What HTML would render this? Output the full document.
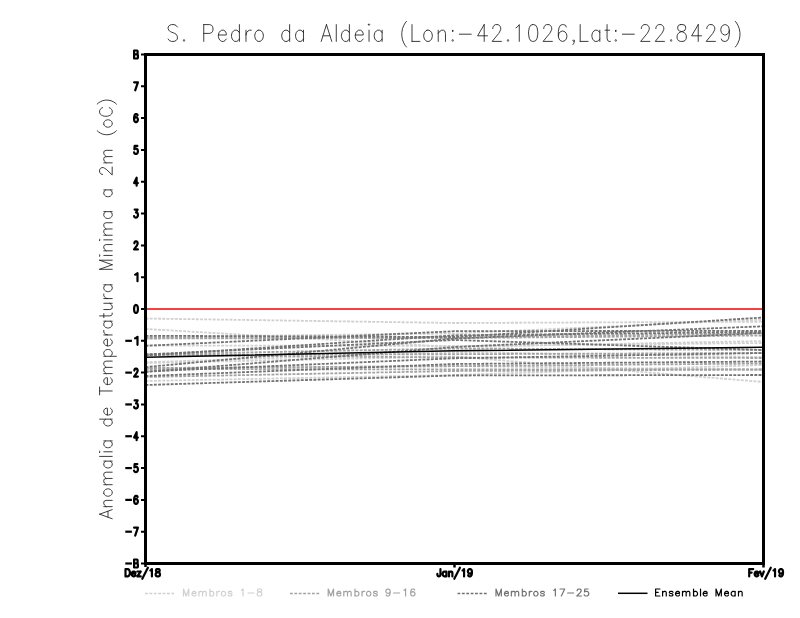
<!DOCTYPE html><html><head><meta charset="utf-8"><style>html,body{margin:0;padding:0;background:#fff;width:800px;height:618px;overflow:hidden}</style></head><body><svg width="800" height="618" viewBox="0 0 800 618" style="display:block"><rect width="800" height="618" fill="#fff"/><g fill="none" stroke-linecap="round" stroke-linejoin="round"><path d="M177.36 27.00L176.04 25.40L174.07 24.60L171.43 24.60L169.45 25.40L168.14 27.00L168.14 28.60L168.80 30.20L169.45 31.00L170.77 31.80L174.73 33.40L176.04 34.20L176.70 35.00L177.36 36.60L177.36 39.00L176.04 40.60L174.07 41.40L171.43 41.40L169.45 40.60L168.14 39.00M184.01 39.80L183.36 40.60L184.01 41.40L184.67 40.60L184.01 39.80M203.76 24.60L203.76 41.40M203.76 24.60L209.69 24.60L211.66 25.40L212.32 26.20L212.98 27.80L212.98 30.20L212.32 31.80L211.66 32.60L209.69 33.40L203.76 33.40M218.38 35.00L226.29 35.00L226.29 33.40L225.63 31.80L224.97 31.00L223.66 30.20L221.68 30.20L220.36 31.00L219.04 32.60L218.38 35.00L218.38 36.60L219.04 39.00L220.36 40.60L221.68 41.40L223.66 41.40L224.97 40.60L226.29 39.00M239.40 24.60L239.40 41.40M239.40 32.60L238.08 31.00L236.76 30.20L234.78 30.20L233.47 31.00L232.15 32.60L231.49 35.00L231.49 36.60L232.15 39.00L233.47 40.60L234.78 41.40L236.76 41.40L238.08 40.60L239.40 39.00M245.98 30.20L245.98 41.40M245.98 35.00L246.64 32.60L247.96 31.00L249.28 30.20L251.25 30.20M258.08 30.20L256.76 31.00L255.44 32.60L254.78 35.00L254.78 36.60L255.44 39.00L256.76 40.60L258.08 41.40L260.06 41.40L261.38 40.60L262.69 39.00L263.35 36.60L263.35 35.00L262.69 32.60L261.38 31.00L260.06 30.20L258.08 30.20M289.64 24.60L289.64 41.40M289.64 32.60L288.33 31.00L287.01 30.20L285.03 30.20L283.71 31.00L282.40 32.60L281.74 35.00L281.74 36.60L282.40 39.00L283.71 40.60L285.03 41.40L287.01 41.40L288.33 40.60L289.64 39.00M303.48 30.20L303.48 41.40M303.48 32.60L302.16 31.00L300.84 30.20L298.86 30.20L297.55 31.00L296.23 32.60L295.57 35.00L295.57 36.60L296.23 39.00L297.55 40.60L298.86 41.40L300.84 41.40L302.16 40.60L303.48 39.00M326.47 24.60L321.20 41.40M326.47 24.60L331.75 41.40M323.18 35.80L329.77 35.80M336.28 24.60L336.28 41.40M349.36 24.60L349.36 41.40M349.36 32.60L348.04 31.00L346.72 30.20L344.74 30.20L343.43 31.00L342.11 32.60L341.45 35.00L341.45 36.60L342.11 39.00L343.43 40.60L344.74 41.40L346.72 41.40L348.04 40.60L349.36 39.00M355.28 35.00L363.19 35.00L363.19 33.40L362.53 31.80L361.87 31.00L360.55 30.20L358.58 30.20L357.26 31.00L355.94 32.60L355.28 35.00L355.28 36.60L355.94 39.00L357.26 40.60L358.58 41.40L360.55 41.40L361.87 40.60L363.19 39.00M368.38 24.60L369.04 25.40L369.70 24.60L369.04 23.80L368.38 24.60M369.04 30.20L369.04 41.40M382.12 30.20L382.12 41.40M382.12 32.60L380.80 31.00L379.48 30.20L377.50 30.20L376.19 31.00L374.87 32.60L374.21 35.00L374.21 36.60L374.87 39.00L376.19 40.60L377.50 41.40L379.48 41.40L380.80 40.60L382.12 39.00M406.43 21.40L405.11 23.00L403.80 25.40L402.48 28.60L401.82 32.60L401.82 35.80L402.48 39.80L403.80 43.00L405.11 45.40L406.43 47.00M412.01 24.60L412.01 41.40M412.01 41.40L419.92 41.40M427.02 30.20L425.71 31.00L424.39 32.60L423.73 35.00L423.73 36.60L424.39 39.00L425.71 40.60L427.02 41.40L429.00 41.40L430.32 40.60L431.64 39.00L432.30 36.60L432.30 35.00L431.64 32.60L430.32 31.00L429.00 30.20L427.02 30.20M438.22 30.20L438.22 41.40M438.22 33.40L440.20 31.00L441.52 30.20L443.49 30.20L444.81 31.00L445.47 33.40L445.47 41.40M452.71 30.20L452.05 31.00L452.71 31.80L453.37 31.00L452.71 30.20M452.71 39.80L452.05 40.60L452.71 41.40L453.37 40.60L452.71 39.80M459.33 34.20L471.19 34.20M484.19 24.60L477.60 35.80L487.49 35.80M484.19 24.60L484.19 41.40M492.82 28.60L492.82 27.80L493.48 26.20L494.14 25.40L495.46 24.60L498.09 24.60L499.41 25.40L500.07 26.20L500.73 27.80L500.73 29.40L500.07 31.00L498.75 33.40L492.16 41.40L501.39 41.40M508.04 39.80L507.38 40.60L508.04 41.40L508.70 40.60L508.04 39.80M515.98 27.80L517.30 27.00L519.27 24.60L519.27 41.40M532.51 24.60L530.54 25.40L529.22 27.80L528.56 31.80L528.56 34.20L529.22 38.20L530.54 40.60L532.51 41.40L533.83 41.40L535.81 40.60L537.13 38.20L537.79 34.20L537.79 31.80L537.13 27.80L535.81 25.40L533.83 24.60L532.51 24.60M543.78 28.60L543.78 27.80L544.44 26.20L545.10 25.40L546.42 24.60L549.05 24.60L550.37 25.40L551.03 26.20L551.69 27.80L551.69 29.40L551.03 31.00L549.71 33.40L543.12 41.40L552.35 41.40M566.25 27.00L565.59 25.40L563.61 24.60L562.29 24.60L560.32 25.40L559.00 27.80L558.34 31.80L558.34 35.80L559.00 39.00L560.32 40.60L562.29 41.40L562.95 41.40L564.93 40.60L566.25 39.00L566.91 36.60L566.91 35.80L566.25 33.40L564.93 31.80L562.95 31.00L562.29 31.00L560.32 31.80L559.00 33.40L558.34 35.80M574.22 40.60L573.56 41.40L572.90 40.60L573.56 39.80L574.22 40.60L574.22 42.20L573.56 43.80L572.90 44.60M580.18 24.60L580.18 41.40M580.18 41.40L588.09 41.40M599.80 30.20L599.80 41.40M599.80 32.60L598.49 31.00L597.17 30.20L595.19 30.20L593.87 31.00L592.56 32.60L591.90 35.00L591.90 36.60L592.56 39.00L593.87 40.60L595.19 41.40L597.17 41.40L598.49 40.60L599.80 39.00M607.05 24.60L607.05 38.20L607.71 40.60L609.02 41.40L610.34 41.40M605.07 30.20L609.68 30.20M615.78 30.20L615.12 31.00L615.78 31.80L616.44 31.00L615.78 30.20M615.78 39.80L615.12 40.60L615.78 41.40L616.44 40.60L615.78 39.80M622.40 34.20L634.27 34.20M641.33 28.60L641.33 27.80L641.99 26.20L642.65 25.40L643.97 24.60L646.60 24.60L647.92 25.40L648.58 26.20L649.24 27.80L649.24 29.40L648.58 31.00L647.26 33.40L640.67 41.40L649.90 41.40M655.89 28.60L655.89 27.80L656.55 26.20L657.21 25.40L658.53 24.60L661.16 24.60L662.48 25.40L663.14 26.20L663.80 27.80L663.80 29.40L663.14 31.00L661.82 33.40L655.23 41.40L664.46 41.40M671.11 39.80L670.45 40.60L671.11 41.40L671.77 40.60L671.11 39.80M680.37 24.60L678.39 25.40L677.73 27.00L677.73 28.60L678.39 30.20L679.71 31.00L682.34 31.80L684.32 32.60L685.64 34.20L686.30 35.80L686.30 38.20L685.64 39.80L684.98 40.60L683.00 41.40L680.37 41.40L678.39 40.60L677.73 39.80L677.07 38.20L677.07 35.80L677.73 34.20L679.05 32.60L681.03 31.80L683.66 31.00L684.98 30.20L685.64 28.60L685.64 27.00L684.98 25.40L683.00 24.60L680.37 24.60M698.22 24.60L691.63 35.80L701.52 35.80M698.22 24.60L698.22 41.40M706.85 28.60L706.85 27.80L707.51 26.20L708.17 25.40L709.49 24.60L712.12 24.60L713.44 25.40L714.10 26.20L714.76 27.80L714.76 29.40L714.10 31.00L712.78 33.40L706.19 41.40L715.42 41.40M729.32 30.20L728.66 32.60L727.34 34.20L725.37 35.00L724.71 35.00L722.73 34.20L721.41 32.60L720.75 30.20L720.75 29.40L721.41 27.00L722.73 25.40L724.71 24.60L725.37 24.60L727.34 25.40L728.66 27.00L729.32 30.20L729.32 34.20L728.66 38.20L727.34 40.60L725.37 41.40L724.05 41.40L722.07 40.60L721.41 39.00M735.31 21.40L736.63 23.00L737.95 25.40L739.27 28.60L739.93 32.60L739.93 35.80L739.27 39.80L737.95 43.00L736.63 45.40L735.31 47.00" stroke="#1a1a1a" stroke-width="0.85"/><path d="M99.60 514.19L112.20 518.73M99.60 514.19L112.20 509.64M108.00 517.03L108.00 511.35M103.80 506.64L112.20 506.64M106.20 506.64L104.40 504.93L103.80 503.80L103.80 502.09L104.40 500.96L106.20 500.39L112.20 500.39M103.80 493.40L104.40 494.53L105.60 495.67L107.40 496.24L108.60 496.24L110.40 495.67L111.60 494.53L112.20 493.40L112.20 491.69L111.60 490.56L110.40 489.42L108.60 488.85L107.40 488.85L105.60 489.42L104.40 490.56L103.80 491.69L103.80 493.40M103.80 484.70L112.20 484.70M106.20 484.70L104.40 483.00L103.80 481.86L103.80 480.16L104.40 479.02L106.20 478.45L112.20 478.45M106.20 478.45L104.40 476.75L103.80 475.61L103.80 473.91L104.40 472.77L106.20 472.20L112.20 472.20M103.80 461.13L112.20 461.13M105.60 461.13L104.40 462.27L103.80 463.40L103.80 465.11L104.40 466.24L105.60 467.38L107.40 467.95L108.60 467.95L110.40 467.38L111.60 466.24L112.20 465.11L112.20 463.40L111.60 462.27L110.40 461.13M99.60 456.41L112.20 456.41M99.60 452.36L100.20 451.79L99.60 451.23L99.00 451.79L99.60 452.36M103.80 451.79L112.20 451.79M103.80 440.93L112.20 440.93M105.60 440.93L104.40 442.06L103.80 443.20L103.80 444.90L104.40 446.04L105.60 447.17L107.40 447.74L108.60 447.74L110.40 447.17L111.60 446.04L112.20 444.90L112.20 443.20L111.60 442.06L110.40 440.93M99.60 419.16L112.20 419.16M105.60 419.16L104.40 420.29L103.80 421.43L103.80 423.13L104.40 424.27L105.60 425.41L107.40 425.97L108.60 425.97L110.40 425.41L111.60 424.27L112.20 423.13L112.20 421.43L111.60 420.29L110.40 419.16M107.40 415.01L107.40 408.19L106.20 408.19L105.00 408.76L104.40 409.33L103.80 410.46L103.80 412.17L104.40 413.30L105.60 414.44L107.40 415.01L108.60 415.01L110.40 414.44L111.60 413.30L112.20 412.17L112.20 410.46L111.60 409.33L110.40 408.19M99.60 390.97L112.20 390.97M99.60 394.95L99.60 387.00M107.40 384.58L107.40 377.76L106.20 377.76L105.00 378.33L104.40 378.90L103.80 380.03L103.80 381.74L104.40 382.87L105.60 384.01L107.40 384.58L108.60 384.58L110.40 384.01L111.60 382.87L112.20 381.74L112.20 380.03L111.60 378.90L110.40 377.76M103.80 373.62L112.20 373.62M106.20 373.62L104.40 371.91L103.80 370.78L103.80 369.07L104.40 367.94L106.20 367.37L112.20 367.37M106.20 367.37L104.40 365.67L103.80 364.53L103.80 362.83L104.40 361.69L106.20 361.12L112.20 361.12M103.80 356.30L116.40 356.30M105.60 356.30L104.40 355.16L103.80 354.03L103.80 352.32L104.40 351.19L105.60 350.05L107.40 349.48L108.60 349.48L110.40 350.05L111.60 351.19L112.20 352.32L112.20 354.03L111.60 355.16L110.40 356.30M107.40 345.90L107.40 339.08L106.20 339.08L105.00 339.65L104.40 340.22L103.80 341.35L103.80 343.06L104.40 344.19L105.60 345.33L107.40 345.90L108.60 345.90L110.40 345.33L111.60 344.19L112.20 343.06L112.20 341.35L111.60 340.22L110.40 339.08M103.80 334.94L112.20 334.94M107.40 334.94L105.60 334.37L104.40 333.23L103.80 332.10L103.80 330.39M103.80 321.19L112.20 321.19M105.60 321.19L104.40 322.32L103.80 323.46L103.80 325.16L104.40 326.30L105.60 327.43L107.40 328.00L108.60 328.00L110.40 327.43L111.60 326.30L112.20 325.16L112.20 323.46L111.60 322.32L110.40 321.19M99.60 315.90L109.80 315.90L111.60 315.33L112.20 314.19L112.20 313.06M103.80 317.60L103.80 313.62M103.80 309.54L109.80 309.54L111.60 308.97L112.20 307.83L112.20 306.13L111.60 304.99L109.80 303.29M103.80 303.29L112.20 303.29M103.80 298.57L112.20 298.57M107.40 298.57L105.60 298.00L104.40 296.86L103.80 295.73L103.80 294.02M103.80 284.82L112.20 284.82M105.60 284.82L104.40 285.95L103.80 287.09L103.80 288.79L104.40 289.93L105.60 291.06L107.40 291.63L108.60 291.63L110.40 291.06L111.60 289.93L112.20 288.79L112.20 287.09L111.60 285.95L110.40 284.82M99.60 269.30L112.20 269.30M99.60 269.30L112.20 264.75M99.60 260.21L112.20 264.75M99.60 260.21L112.20 260.21M99.60 256.01L100.20 255.44L99.60 254.87L99.00 255.44L99.60 256.01M103.80 255.44L112.20 255.44M103.80 250.82L112.20 250.82M106.20 250.82L104.40 249.12L103.80 247.98L103.80 246.28L104.40 245.14L106.20 244.57L112.20 244.57M99.60 240.42L100.20 239.85L99.60 239.28L99.00 239.85L99.60 240.42M103.80 239.85L112.20 239.85M103.80 235.23L112.20 235.23M106.20 235.23L104.40 233.53L103.80 232.39L103.80 230.69L104.40 229.55L106.20 228.99L112.20 228.99M106.20 228.99L104.40 227.28L103.80 226.15L103.80 224.44L104.40 223.31L106.20 222.74L112.20 222.74M103.80 211.67L112.20 211.67M105.60 211.67L104.40 212.80L103.80 213.94L103.80 215.64L104.40 216.78L105.60 217.92L107.40 218.48L108.60 218.48L110.40 217.92L111.60 216.78L112.20 215.64L112.20 213.94L111.60 212.80L110.40 211.67M103.80 189.90L112.20 189.90M105.60 189.90L104.40 191.03L103.80 192.17L103.80 193.87L104.40 195.01L105.60 196.15L107.40 196.71L108.60 196.71L110.40 196.15L111.60 195.01L112.20 193.87L112.20 192.17L111.60 191.03L110.40 189.90M102.60 174.38L102.00 174.38L100.80 173.81L100.20 173.24L99.60 172.11L99.60 169.83L100.20 168.70L100.80 168.13L102.00 167.56L103.20 167.56L104.40 168.13L106.20 169.27L112.20 174.95L112.20 166.99M103.80 162.83L112.20 162.83M106.20 162.83L104.40 161.13L103.80 159.99L103.80 158.29L104.40 157.15L106.20 156.58L112.20 156.58M106.20 156.58L104.40 154.88L103.80 153.74L103.80 152.04L104.40 150.90L106.20 150.34L112.20 150.34M97.20 130.74L98.40 131.87L100.20 133.01L102.60 134.14L105.60 134.71L108.00 134.71L111.00 134.14L113.40 133.01L115.20 131.87L116.40 130.74M103.80 124.36L104.40 125.49L105.60 126.63L107.40 127.20L108.60 127.20L110.40 126.63L111.60 125.49L112.20 124.36L112.20 122.65L111.60 121.52L110.40 120.38L108.60 119.81L107.40 119.81L105.60 120.38L104.40 121.52L103.80 122.65L103.80 124.36M102.60 107.71L101.40 108.28L100.20 109.41L99.60 110.55L99.60 112.82L100.20 113.96L101.40 115.09L102.60 115.66L104.40 116.23L107.40 116.23L109.20 115.66L110.40 115.09L111.60 113.96L112.20 112.82L112.20 110.55L111.60 109.41L110.40 108.28L109.20 107.71M97.20 104.11L98.40 102.97L100.20 101.83L102.60 100.70L105.60 100.13L108.00 100.13L111.00 100.70L113.40 101.83L115.20 102.97L116.40 104.11" stroke="#1a1a1a" stroke-width="0.85"/><g clip-path="url(#clip)"><path d="M145.5 318.5L454.5 323.0L763.5 321.7" stroke="#d0d0d0" stroke-width="1.8" stroke-dasharray="2.9 1.3" stroke-linecap="butt"/><path d="M145.5 329.0L454.5 347.0L763.5 341.0" stroke="#d0d0d0" stroke-width="1.8" stroke-dasharray="2.9 1.3" stroke-linecap="butt"/><path d="M145.5 337.0L454.5 333.5L763.5 319.5" stroke="#d0d0d0" stroke-width="1.8" stroke-dasharray="2.9 1.3" stroke-linecap="butt"/><path d="M145.5 362.25L454.5 352.0L763.5 357.0" stroke="#d0d0d0" stroke-width="1.8" stroke-dasharray="2.9 1.3" stroke-linecap="butt"/><path d="M145.5 363.0L454.5 356.5L763.5 382.0" stroke="#d0d0d0" stroke-width="1.8" stroke-dasharray="2.9 1.3" stroke-linecap="butt"/><path d="M145.5 368.5L454.5 366.0L763.5 370.0" stroke="#d0d0d0" stroke-width="1.8" stroke-dasharray="2.9 1.3" stroke-linecap="butt"/><path d="M145.5 381.0L454.5 375.0L763.5 365.0" stroke="#d0d0d0" stroke-width="1.8" stroke-dasharray="2.9 1.3" stroke-linecap="butt"/><path d="M145.5 345.5L454.5 346.0L763.5 343.0" stroke="#d0d0d0" stroke-width="1.8" stroke-dasharray="2.9 1.3" stroke-linecap="butt"/><path d="M145.5 338.5L454.5 338.0L763.5 335.5" stroke="#a2a2a2" stroke-width="1.8" stroke-dasharray="2.9 1.3" stroke-linecap="butt"/><path d="M145.5 338.0L454.5 337.5L763.5 333.3" stroke="#a2a2a2" stroke-width="1.8" stroke-dasharray="2.9 1.3" stroke-linecap="butt"/><path d="M145.5 368.0L454.5 366.2L763.5 363.5" stroke="#a2a2a2" stroke-width="1.8" stroke-dasharray="2.9 1.3" stroke-linecap="butt"/><path d="M145.5 369.0L454.5 369.5L763.5 369.3" stroke="#a2a2a2" stroke-width="1.8" stroke-dasharray="2.9 1.3" stroke-linecap="butt"/><path d="M145.5 355.0L454.5 357.5L763.5 358.0" stroke="#a2a2a2" stroke-width="1.8" stroke-dasharray="2.9 1.3" stroke-linecap="butt"/><path d="M145.5 377.0L454.5 371.0L763.5 369.5" stroke="#a2a2a2" stroke-width="1.8" stroke-dasharray="2.9 1.3" stroke-linecap="butt"/><path d="M145.5 354.4L454.5 348.5L763.5 350.0" stroke="#a2a2a2" stroke-width="1.8" stroke-dasharray="2.9 1.3" stroke-linecap="butt"/><path d="M145.5 354.8L454.5 354.2L763.5 353.0" stroke="#a2a2a2" stroke-width="1.8" stroke-dasharray="2.9 1.3" stroke-linecap="butt"/><path d="M145.5 345.8L454.5 331.2L763.5 330.8" stroke="#727272" stroke-width="1.8" stroke-dasharray="2.9 1.3" stroke-linecap="butt"/><path d="M145.5 355.5L454.5 335.3L763.5 332.0" stroke="#727272" stroke-width="1.8" stroke-dasharray="2.9 1.3" stroke-linecap="butt"/><path d="M145.5 354.4L454.5 340.0L763.5 350.0" stroke="#727272" stroke-width="1.8" stroke-dasharray="2.9 1.3" stroke-linecap="butt"/><path d="M145.5 367.1L454.5 338.5L763.5 326.3" stroke="#727272" stroke-width="1.8" stroke-dasharray="2.9 1.3" stroke-linecap="butt"/><path d="M145.5 335.8L454.5 337.0L763.5 317.5" stroke="#727272" stroke-width="1.8" stroke-dasharray="2.9 1.3" stroke-linecap="butt"/><path d="M145.5 371.5L454.5 358.3L763.5 353.0" stroke="#727272" stroke-width="1.8" stroke-dasharray="2.9 1.3" stroke-linecap="butt"/><path d="M145.5 376.0L454.5 364.0L763.5 361.5" stroke="#727272" stroke-width="1.8" stroke-dasharray="2.9 1.3" stroke-linecap="butt"/><path d="M145.5 385.0L454.5 375.5L763.5 375.0" stroke="#727272" stroke-width="1.8" stroke-dasharray="2.9 1.3" stroke-linecap="butt"/><path d="M145.5 372.0L454.5 347.0L763.5 333.0" stroke="#727272" stroke-width="1.8" stroke-dasharray="2.9 1.3" stroke-linecap="butt"/></g><path d="M145.5 357.3L454.5 350.8L763.5 347.3" stroke="#000" stroke-width="1.5" stroke-linecap="butt"/><path d="M146 309L762 309" stroke="#f84040" stroke-width="2" stroke-linecap="butt"/><rect x="145.5" y="54.5" width="618" height="509" stroke="#000" stroke-width="3" stroke-linejoin="miter"/><path d="M141 563.50L145 563.50M141 531.69L145 531.69M141 499.88L145 499.88M141 468.06L145 468.06M141 436.25L145 436.25M141 404.44L145 404.44M141 372.62L145 372.62M141 340.81L145 340.81M141 309.00L145 309.00M141 277.19L145 277.19M141 245.38L145 245.38M141 213.56L145 213.56M141 181.75L145 181.75M141 149.94L145 149.94M141 118.12L145 118.12M141 86.31L145 86.31M141 54.50L145 54.50" stroke="#000" stroke-width="2" stroke-linecap="butt"/><path d="M145.5 563L145.5 567M454.5 563L454.5 567.5M763.5 563L763.5 567.5" stroke="#000" stroke-width="2.5" stroke-linecap="butt"/><path d="M134.10 559.50L137.02 559.50L137.61 560.26L137.61 562.55L137.02 563.31L134.10 563.31M134.10 563.31L137.32 563.31L137.90 564.07L137.90 566.74L137.32 567.50L134.10 567.50M134.10 559.50L134.10 567.50" stroke="#000" stroke-width="2.2"/><path d="M126.4 563.50L130.8 563.50" stroke="#000" stroke-width="2.2" stroke-linecap="square"/><path d="M137.90 527.69L135.19 535.69M134.10 527.69L137.90 527.69" stroke="#000" stroke-width="2.2"/><path d="M126.4 531.69L130.8 531.69" stroke="#000" stroke-width="2.2" stroke-linecap="square"/><path d="M137.61 497.02L137.32 496.26L136.44 495.87L135.85 495.87L134.98 496.26L134.39 497.40L134.10 499.30L134.10 501.21L134.39 502.73L134.98 503.49L135.85 503.88L136.15 503.88L137.02 503.49L137.61 502.73L137.90 501.59L137.90 501.21L137.61 500.07L137.02 499.30L136.15 498.92L135.85 498.92L134.98 499.30L134.39 500.07L134.10 501.21" stroke="#000" stroke-width="2.2"/><path d="M126.4 499.88L130.8 499.88" stroke="#000" stroke-width="2.2" stroke-linecap="square"/><path d="M137.36 464.06L134.64 464.06L134.37 467.49L134.64 467.11L135.46 466.73L136.27 466.73L137.09 467.11L137.63 467.87L137.90 469.01L137.90 469.78L137.63 470.92L137.09 471.68L136.27 472.06L135.46 472.06L134.64 471.68L134.37 471.30L134.10 470.54" stroke="#000" stroke-width="2.2"/><path d="M126.4 468.06L130.8 468.06" stroke="#000" stroke-width="2.2" stroke-linecap="square"/><path d="M136.63 432.25L134.10 437.58L137.90 437.58M136.63 432.25L136.63 440.25" stroke="#000" stroke-width="2.2"/><path d="M126.4 436.25L130.8 436.25" stroke="#000" stroke-width="2.2" stroke-linecap="square"/><path d="M134.64 400.44L137.63 400.44L136.00 403.49L136.81 403.49L137.36 403.87L137.63 404.25L137.90 405.39L137.90 406.15L137.63 407.29L137.09 408.06L136.27 408.44L135.46 408.44L134.64 408.06L134.37 407.68L134.10 406.91" stroke="#000" stroke-width="2.2"/><path d="M126.4 404.44L130.8 404.44" stroke="#000" stroke-width="2.2" stroke-linecap="square"/><path d="M134.37 370.53L134.37 370.15L134.64 369.39L134.91 369.01L135.46 368.62L136.54 368.62L137.09 369.01L137.36 369.39L137.63 370.15L137.63 370.91L137.36 371.67L136.81 372.82L134.10 376.62L137.90 376.62" stroke="#000" stroke-width="2.2"/><path d="M126.4 372.62L130.8 372.62" stroke="#000" stroke-width="2.2" stroke-linecap="square"/><path d="M135.10 338.34L136.06 337.96L137.50 336.81L137.50 344.81" stroke="#000" stroke-width="2.2"/><path d="M126.4 340.81L130.8 340.81" stroke="#000" stroke-width="2.2" stroke-linecap="square"/><path d="M135.73 305.00L134.91 305.38L134.37 306.52L134.10 308.43L134.10 309.57L134.37 311.48L134.91 312.62L135.73 313.00L136.27 313.00L137.09 312.62L137.63 311.48L137.90 309.57L137.90 308.43L137.63 306.52L137.09 305.38L136.27 305.00L135.73 305.00" stroke="#000" stroke-width="2.2"/><path d="M135.10 274.71L136.06 274.33L137.50 273.19L137.50 281.19" stroke="#000" stroke-width="2.2"/><path d="M134.37 243.28L134.37 242.90L134.64 242.14L134.91 241.76L135.46 241.38L136.54 241.38L137.09 241.76L137.36 242.14L137.63 242.90L137.63 243.66L137.36 244.42L136.81 245.57L134.10 249.38L137.90 249.38" stroke="#000" stroke-width="2.2"/><path d="M134.64 209.56L137.63 209.56L136.00 212.61L136.81 212.61L137.36 212.99L137.63 213.37L137.90 214.51L137.90 215.28L137.63 216.42L137.09 217.18L136.27 217.56L135.46 217.56L134.64 217.18L134.37 216.80L134.10 216.04" stroke="#000" stroke-width="2.2"/><path d="M136.63 177.75L134.10 183.08L137.90 183.08M136.63 177.75L136.63 185.75" stroke="#000" stroke-width="2.2"/><path d="M137.36 145.94L134.64 145.94L134.37 149.37L134.64 148.99L135.46 148.60L136.27 148.60L137.09 148.99L137.63 149.75L137.90 150.89L137.90 151.65L137.63 152.79L137.09 153.56L136.27 153.94L135.46 153.94L134.64 153.56L134.37 153.18L134.10 152.41" stroke="#000" stroke-width="2.2"/><path d="M137.61 115.27L137.32 114.51L136.44 114.13L135.85 114.13L134.98 114.51L134.39 115.65L134.10 117.55L134.10 119.46L134.39 120.98L134.98 121.74L135.85 122.12L136.15 122.12L137.02 121.74L137.61 120.98L137.90 119.84L137.90 119.46L137.61 118.32L137.02 117.55L136.15 117.17L135.85 117.17L134.98 117.55L134.39 118.32L134.10 119.46" stroke="#000" stroke-width="2.2"/><path d="M137.90 82.31L135.19 90.31M134.10 82.31L137.90 82.31" stroke="#000" stroke-width="2.2"/><path d="M134.10 50.50L137.02 50.50L137.61 51.26L137.61 53.55L137.02 54.31L134.10 54.31M134.10 54.31L137.32 54.31L137.90 55.07L137.90 57.74L137.32 58.50L134.10 58.50M134.10 50.50L134.10 58.50" stroke="#000" stroke-width="2.2"/><path d="M125.50 569.05L125.50 576.40M125.50 569.05L127.67 569.05L128.60 569.40L129.22 570.10L129.53 570.80L129.84 571.85L129.84 573.60L129.53 574.65L129.22 575.35L128.60 576.05L127.67 576.40L125.50 576.40M131.72 573.60L135.44 573.60L135.44 572.90L135.13 572.20L134.82 571.85L134.20 571.50L133.27 571.50L132.65 571.85L132.03 572.55L131.72 573.60L131.72 574.30L132.03 575.35L132.65 576.05L133.27 576.40L134.20 576.40L134.82 576.05L135.44 575.35M140.73 571.50L137.32 576.40M137.32 571.50L140.73 571.50M137.32 576.40L140.73 576.40M147.87 567.65L142.29 578.85M150.37 570.45L150.99 570.10L151.92 569.05L151.92 576.40M157.21 569.05L156.28 569.40L155.97 570.10L155.97 570.80L156.28 571.50L156.90 571.85L158.14 572.20L159.07 572.55L159.69 573.25L160.00 573.95L160.00 575.00L159.69 575.70L159.38 576.05L158.45 576.40L157.21 576.40L156.28 576.05L155.97 575.70L155.66 575.00L155.66 573.95L155.97 573.25L156.59 572.55L157.52 572.20L158.76 571.85L159.38 571.50L159.69 570.80L159.69 570.10L159.38 569.40L158.45 569.05L157.21 569.05" stroke="#000" stroke-width="2.2" /><path d="M440.45 569.05L440.45 574.65L440.14 575.70L439.83 576.05L439.21 576.40L438.59 576.40L437.97 576.05L437.66 575.70L437.35 574.65L437.35 573.95M446.41 571.50L446.41 576.40M446.41 572.55L445.79 571.85L445.18 571.50L444.25 571.50L443.62 571.85L443.00 572.55L442.69 573.60L442.69 574.30L443.00 575.35L443.62 576.05L444.25 576.40L445.18 576.40L445.79 576.05L446.41 575.35M448.98 571.50L448.98 576.40M448.98 572.90L449.91 571.85L450.53 571.50L451.46 571.50L452.08 571.85L452.39 572.90L452.39 576.40M459.92 567.65L454.34 578.85M462.51 570.45L463.13 570.10L464.06 569.05L464.06 576.40M471.90 571.50L471.59 572.55L470.97 573.25L470.04 573.60L469.73 573.60L468.80 573.25L468.18 572.55L467.87 571.50L467.87 571.15L468.18 570.10L468.80 569.40L469.73 569.05L470.04 569.05L470.97 569.40L471.59 570.10L471.90 571.50L471.90 573.25L471.59 575.00L470.97 576.05L470.04 576.40L469.42 576.40L468.49 576.05L468.18 575.35" stroke="#000" stroke-width="2.2" /><path d="M749.20 569.05L749.20 576.40M749.20 569.05L753.23 569.05M749.20 572.55L751.68 572.55M754.65 573.60L758.37 573.60L758.37 572.90L758.06 572.20L757.75 571.85L757.13 571.50L756.20 571.50L755.58 571.85L754.96 572.55L754.65 573.60L754.65 574.30L754.96 575.35L755.58 576.05L756.20 576.40L757.13 576.40L757.75 576.05L758.37 575.35M760.10 571.50L761.96 576.40M763.82 571.50L761.96 576.40M770.80 567.65L765.22 578.85M773.50 570.45L774.12 570.10L775.05 569.05L775.05 576.40M783.00 571.50L782.69 572.55L782.07 573.25L781.14 573.60L780.83 573.60L779.90 573.25L779.28 572.55L778.97 571.50L778.97 571.15L779.28 570.10L779.90 569.40L780.83 569.05L781.14 569.05L782.07 569.40L782.69 570.10L783.00 571.50L783.00 573.25L782.69 575.00L782.07 576.05L781.14 576.40L780.52 576.40L779.59 576.05L779.28 575.35" stroke="#000" stroke-width="2.2" /><path d="M145 593.4L174 593.4" stroke="#d0d0d0" stroke-width="1.5" stroke-dasharray="2.8 1.6" stroke-linecap="butt"/><path d="M290 593.4L320 593.4" stroke="#a2a2a2" stroke-width="1.5" stroke-dasharray="2.8 1.6" stroke-linecap="butt"/><path d="M457.5 593.4L487 593.4" stroke="#727272" stroke-width="1.5" stroke-dasharray="2.8 1.6" stroke-linecap="butt"/><path d="M618 593.3L647.5 593.3" stroke="#000" stroke-width="1.5" stroke-linecap="butt"/><path d="M183.50 589.01L183.50 596.00M183.50 589.01L186.16 596.00M188.83 589.01L186.16 596.00M188.83 589.01L188.83 596.00M191.97 593.34L195.96 593.34L195.96 592.67L195.63 592.00L195.30 591.67L194.63 591.34L193.63 591.34L192.97 591.67L192.30 592.34L191.97 593.34L191.97 594.00L192.30 595.00L192.97 595.67L193.63 596.00L194.63 596.00L195.30 595.67L195.96 595.00M198.90 591.34L198.90 596.00M198.90 592.67L199.90 591.67L200.57 591.34L201.56 591.34L202.23 591.67L202.56 592.67L202.56 596.00M202.56 592.67L203.56 591.67L204.23 591.34L205.23 591.34L205.89 591.67L206.23 592.67L206.23 596.00M209.90 589.01L209.90 596.00M209.90 592.34L210.57 591.67L211.23 591.34L212.23 591.34L212.90 591.67L213.56 592.34L213.90 593.34L213.90 594.00L213.56 595.00L212.90 595.67L212.23 596.00L211.23 596.00L210.57 595.67L209.90 595.00M216.87 591.34L216.87 596.00M216.87 593.34L217.20 592.34L217.87 591.67L218.53 591.34L219.53 591.34M222.97 591.34L222.30 591.67L221.64 592.34L221.30 593.34L221.30 594.00L221.64 595.00L222.30 595.67L222.97 596.00L223.97 596.00L224.63 595.67L225.30 595.00L225.63 594.00L225.63 593.34L225.30 592.34L224.63 591.67L223.97 591.34L222.97 591.34M231.93 592.34L231.60 591.67L230.60 591.34L229.60 591.34L228.60 591.67L228.27 592.34L228.60 593.00L229.27 593.34L230.93 593.67L231.60 594.00L231.93 594.67L231.93 595.00L231.60 595.67L230.60 596.00L229.60 596.00L228.60 595.67L228.27 595.00M241.37 590.34L242.04 590.01L243.03 589.01L243.03 596.00M248.04 593.00L254.03 593.00M258.90 589.01L257.90 589.34L257.57 590.01L257.57 590.67L257.90 591.34L258.57 591.67L259.90 592.00L260.90 592.34L261.57 593.00L261.90 593.67L261.90 594.67L261.57 595.33L261.23 595.67L260.23 596.00L258.90 596.00L257.90 595.67L257.57 595.33L257.24 594.67L257.24 593.67L257.57 593.00L258.24 592.34L259.24 592.00L260.57 591.67L261.23 591.34L261.57 590.67L261.57 590.01L261.23 589.34L260.23 589.01L258.90 589.01" stroke="#d0d0d0" stroke-width="1.2" /><path d="M328.20 589.01L328.20 596.00M328.20 589.01L330.86 596.00M333.53 589.01L330.86 596.00M333.53 589.01L333.53 596.00M336.78 593.34L340.78 593.34L340.78 592.67L340.45 592.00L340.11 591.67L339.45 591.34L338.45 591.34L337.78 591.67L337.12 592.34L336.78 593.34L336.78 594.00L337.12 595.00L337.78 595.67L338.45 596.00L339.45 596.00L340.11 595.67L340.78 595.00M343.80 591.34L343.80 596.00M343.80 592.67L344.80 591.67L345.47 591.34L346.47 591.34L347.13 591.67L347.47 592.67L347.47 596.00M347.47 592.67L348.46 591.67L349.13 591.34L350.13 591.34L350.80 591.67L351.13 592.67L351.13 596.00M354.95 589.01L354.95 596.00M354.95 592.34L355.61 591.67L356.28 591.34L357.28 591.34L357.94 591.67L358.61 592.34L358.94 593.34L358.94 594.00L358.61 595.00L357.94 595.67L357.28 596.00L356.28 596.00L355.61 595.67L354.95 595.00M362.01 591.34L362.01 596.00M362.01 593.34L362.34 592.34L363.00 591.67L363.67 591.34L364.67 591.34M368.17 591.34L367.50 591.67L366.84 592.34L366.50 593.34L366.50 594.00L366.84 595.00L367.50 595.67L368.17 596.00L369.17 596.00L369.83 595.67L370.50 595.00L370.83 594.00L370.83 593.34L370.50 592.34L369.83 591.67L369.17 591.34L368.17 591.34M377.22 592.34L376.89 591.67L375.89 591.34L374.89 591.34L373.89 591.67L373.56 592.34L373.89 593.00L374.56 593.34L376.22 593.67L376.89 594.00L377.22 594.67L377.22 595.00L376.89 595.67L375.89 596.00L374.89 596.00L373.89 595.67L373.56 595.00M390.15 591.34L389.82 592.34L389.15 593.00L388.15 593.34L387.82 593.34L386.82 593.00L386.15 592.34L385.82 591.34L385.82 591.00L386.15 590.01L386.82 589.34L387.82 589.01L388.15 589.01L389.15 589.34L389.82 590.01L390.15 591.34L390.15 593.00L389.82 594.67L389.15 595.67L388.15 596.00L387.48 596.00L386.49 595.67L386.15 595.00M393.58 593.00L399.58 593.00M403.91 590.34L404.57 590.01L405.57 589.01L405.57 596.00M414.67 590.01L414.33 589.34L413.33 589.01L412.67 589.01L411.67 589.34L411.00 590.34L410.67 592.00L410.67 593.67L411.00 595.00L411.67 595.67L412.67 596.00L413.00 596.00L414.00 595.67L414.67 595.00L415.00 594.00L415.00 593.67L414.67 592.67L414.00 592.00L413.00 591.67L412.67 591.67L411.67 592.00L411.00 592.67L410.67 593.67" stroke="#a2a2a2" stroke-width="1.2" /><path d="M496.00 589.01L496.00 596.00M496.00 589.01L498.66 596.00M501.33 589.01L498.66 596.00M501.33 589.01L501.33 596.00M504.44 593.34L508.44 593.34L508.44 592.67L508.10 592.00L507.77 591.67L507.10 591.34L506.11 591.34L505.44 591.67L504.77 592.34L504.44 593.34L504.44 594.00L504.77 595.00L505.44 595.67L506.11 596.00L507.10 596.00L507.77 595.67L508.44 595.00M511.35 591.34L511.35 596.00M511.35 592.67L512.35 591.67L513.02 591.34L514.02 591.34L514.68 591.67L515.02 592.67L515.02 596.00M515.02 592.67L516.02 591.67L516.68 591.34L517.68 591.34L518.35 591.67L518.68 592.67L518.68 596.00M522.32 589.01L522.32 596.00M522.32 592.34L522.99 591.67L523.65 591.34L524.65 591.34L525.32 591.67L525.98 592.34L526.32 593.34L526.32 594.00L525.98 595.00L525.32 595.67L524.65 596.00L523.65 596.00L522.99 595.67L522.32 595.00M529.27 591.34L529.27 596.00M529.27 593.34L529.60 592.34L530.27 591.67L530.93 591.34L531.93 591.34M535.35 591.34L534.69 591.67L534.02 592.34L533.69 593.34L533.69 594.00L534.02 595.00L534.69 595.67L535.35 596.00L536.35 596.00L537.02 595.67L537.68 595.00L538.02 594.00L538.02 593.34L537.68 592.34L537.02 591.67L536.35 591.34L535.35 591.34M544.30 592.34L543.96 591.67L542.96 591.34L541.97 591.34L540.97 591.67L540.63 592.34L540.97 593.00L541.63 593.34L543.30 593.67L543.96 594.00L544.30 594.67L544.30 595.00L543.96 595.67L542.96 596.00L541.97 596.00L540.97 595.67L540.63 595.00M553.70 590.34L554.36 590.01L555.36 589.01L555.36 596.00M564.67 589.01L561.34 596.00M560.01 589.01L564.67 589.01M567.65 593.00L573.65 593.00M577.16 590.67L577.16 590.34L577.49 589.67L577.83 589.34L578.49 589.01L579.82 589.01L580.49 589.34L580.82 589.67L581.16 590.34L581.16 591.00L580.82 591.67L580.16 592.67L576.83 596.00L581.49 596.00M588.13 589.01L584.80 589.01L584.47 592.00L584.80 591.67L585.80 591.34L586.80 591.34L587.80 591.67L588.47 592.34L588.80 593.34L588.80 594.00L588.47 595.00L587.80 595.67L586.80 596.00L585.80 596.00L584.80 595.67L584.47 595.33L584.14 594.67" stroke="#727272" stroke-width="1.2" /><path d="M655.60 589.01L655.60 596.00M655.60 589.01L659.93 589.01M655.60 592.34L658.26 592.34M655.60 596.00L659.93 596.00M662.60 591.34L662.60 596.00M662.60 592.67L663.60 591.67L664.26 591.34L665.26 591.34L665.93 591.67L666.26 592.67L666.26 596.00M672.93 592.34L672.60 591.67L671.60 591.34L670.60 591.34L669.60 591.67L669.27 592.34L669.60 593.00L670.26 593.34L671.93 593.67L672.60 594.00L672.93 594.67L672.93 595.00L672.60 595.67L671.60 596.00L670.60 596.00L669.60 595.67L669.27 595.00M675.53 593.34L679.52 593.34L679.52 592.67L679.19 592.00L678.86 591.67L678.19 591.34L677.19 591.34L676.53 591.67L675.86 592.34L675.53 593.34L675.53 594.00L675.86 595.00L676.53 595.67L677.19 596.00L678.19 596.00L678.86 595.67L679.52 595.00M682.49 591.34L682.49 596.00M682.49 592.67L683.49 591.67L684.16 591.34L685.16 591.34L685.82 591.67L686.16 592.67L686.16 596.00M686.16 592.67L687.15 591.67L687.82 591.34L688.82 591.34L689.49 591.67L689.82 592.67L689.82 596.00M693.54 589.01L693.54 596.00M693.54 592.34L694.21 591.67L694.88 591.34L695.87 591.34L696.54 591.67L697.21 592.34L697.54 593.34L697.54 594.00L697.21 595.00L696.54 595.67L695.87 596.00L694.88 596.00L694.21 595.67L693.54 595.00M700.54 589.01L700.54 596.00M703.16 593.34L707.15 593.34L707.15 592.67L706.82 592.00L706.49 591.67L705.82 591.34L704.82 591.34L704.16 591.67L703.49 592.34L703.16 593.34L703.16 594.00L703.49 595.00L704.16 595.67L704.82 596.00L705.82 596.00L706.49 595.67L707.15 595.00M716.02 589.01L716.02 596.00M716.02 589.01L718.68 596.00M721.34 589.01L718.68 596.00M721.34 589.01L721.34 596.00M724.52 593.34L728.52 593.34L728.52 592.67L728.19 592.00L727.85 591.67L727.19 591.34L726.19 591.34L725.52 591.67L724.86 592.34L724.52 593.34L724.52 594.00L724.86 595.00L725.52 595.67L726.19 596.00L727.19 596.00L727.85 595.67L728.52 595.00M735.15 591.34L735.15 596.00M735.15 592.34L734.48 591.67L733.82 591.34L732.82 591.34L732.15 591.67L731.49 592.34L731.15 593.34L731.15 594.00L731.49 595.00L732.15 595.67L732.82 596.00L733.82 596.00L734.48 595.67L735.15 595.00M738.49 591.34L738.49 596.00M738.49 592.67L739.49 591.67L740.15 591.34L741.15 591.34L741.82 591.67L742.15 592.67L742.15 596.00" stroke="#000" stroke-width="1.2" /></g><defs><clipPath id="clip"><rect x="146" y="55" width="616" height="507"/></clipPath></defs></svg></body></html>
